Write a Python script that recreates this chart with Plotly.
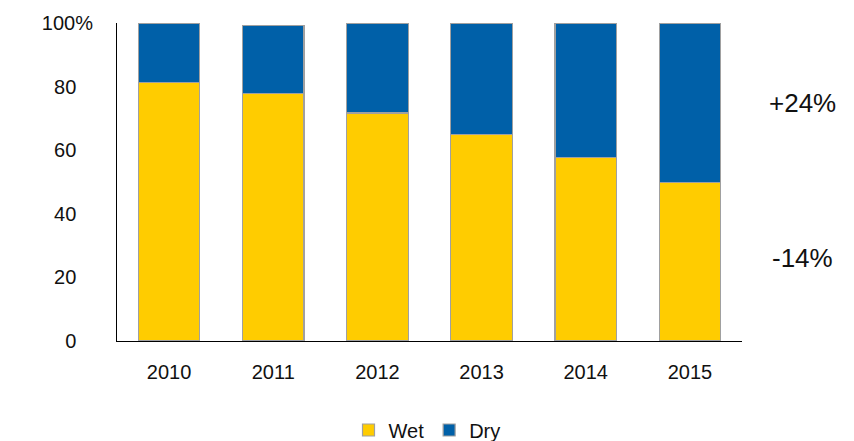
import plotly.graph_objects as go

years = ["2010", "2011", "2012", "2013", "2014", "2015"]
wet = [81.4, 77.9, 71.7, 64.9, 57.8, 49.9]
dry = [18.6, 21.3, 28.3, 35.1, 42.2, 50.1]
ytick_vals = [0, 20, 40, 60, 80, 100]
ytick_text = ["0", "20", "40", "60", "80", "100%"]

FONT = "Liberation Sans, Arial, sans-serif"
NB = "\u00a0"

W, H = 854, 441
ML, MR, MT, MB = 117, 112, 23, 100
plot_w = W - ML - MR
plot_h = H - MT - MB


def px_x(px):
    return (px - ML) / plot_w


def px_y(py):
    return (H - MB - py) / plot_h


# digits aligned, with the "%" sign hanging out to the right
ytick_disp = [t if t.endswith("%") else t + NB * 3 for t in ytick_text]

fig = go.Figure()
fig.add_trace(go.Bar(x=years, y=wet, name="Wet",
                     marker=dict(color="#FFCC00", line=dict(color="#A0A0A0", width=1.2))))
fig.add_trace(go.Bar(x=years, y=dry, name="Dry",
                     marker=dict(color="#0060A8", line=dict(color="#A0A0A0", width=1.2))))

fig.update_layout(
    barmode="stack",
    bargap=0.41,
    width=W, height=H,
    margin=dict(l=ML, r=MR, t=MT, b=MB, autoexpand=False),
    plot_bgcolor="white", paper_bgcolor="white",
    font=dict(family=FONT, size=20, color="#111111"),
    showlegend=True,
    legend=dict(orientation="h", x=0.5, xanchor="center", xref="container",
                y=1 - 430 / H, yanchor="middle", yref="container",
                font=dict(size=20), traceorder="normal", itemwidth=30),
    xaxis=dict(showline=True, linecolor="black", linewidth=1, showgrid=False,
               ticks="", ticklabelstandoff=13, tickfont=dict(size=20)),
    yaxis=dict(range=[0, 100], tickvals=ytick_vals, ticktext=ytick_disp,
               showline=True, linecolor="black", linewidth=1, showgrid=False,
               zeroline=False, ticks="", ticklabelstandoff=19, tickfont=dict(size=20)),
    annotations=[
        dict(text="+24%", x=px_x(802), y=px_y(103), xref="paper", yref="paper",
             xanchor="center", yanchor="middle", showarrow=False, font=dict(size=26)),
        dict(text="-14%", x=px_x(802), y=px_y(258), xref="paper", yref="paper",
             xanchor="center", yanchor="middle", showarrow=False, font=dict(size=26)),
    ],
)

fig.write_html("out.html")
